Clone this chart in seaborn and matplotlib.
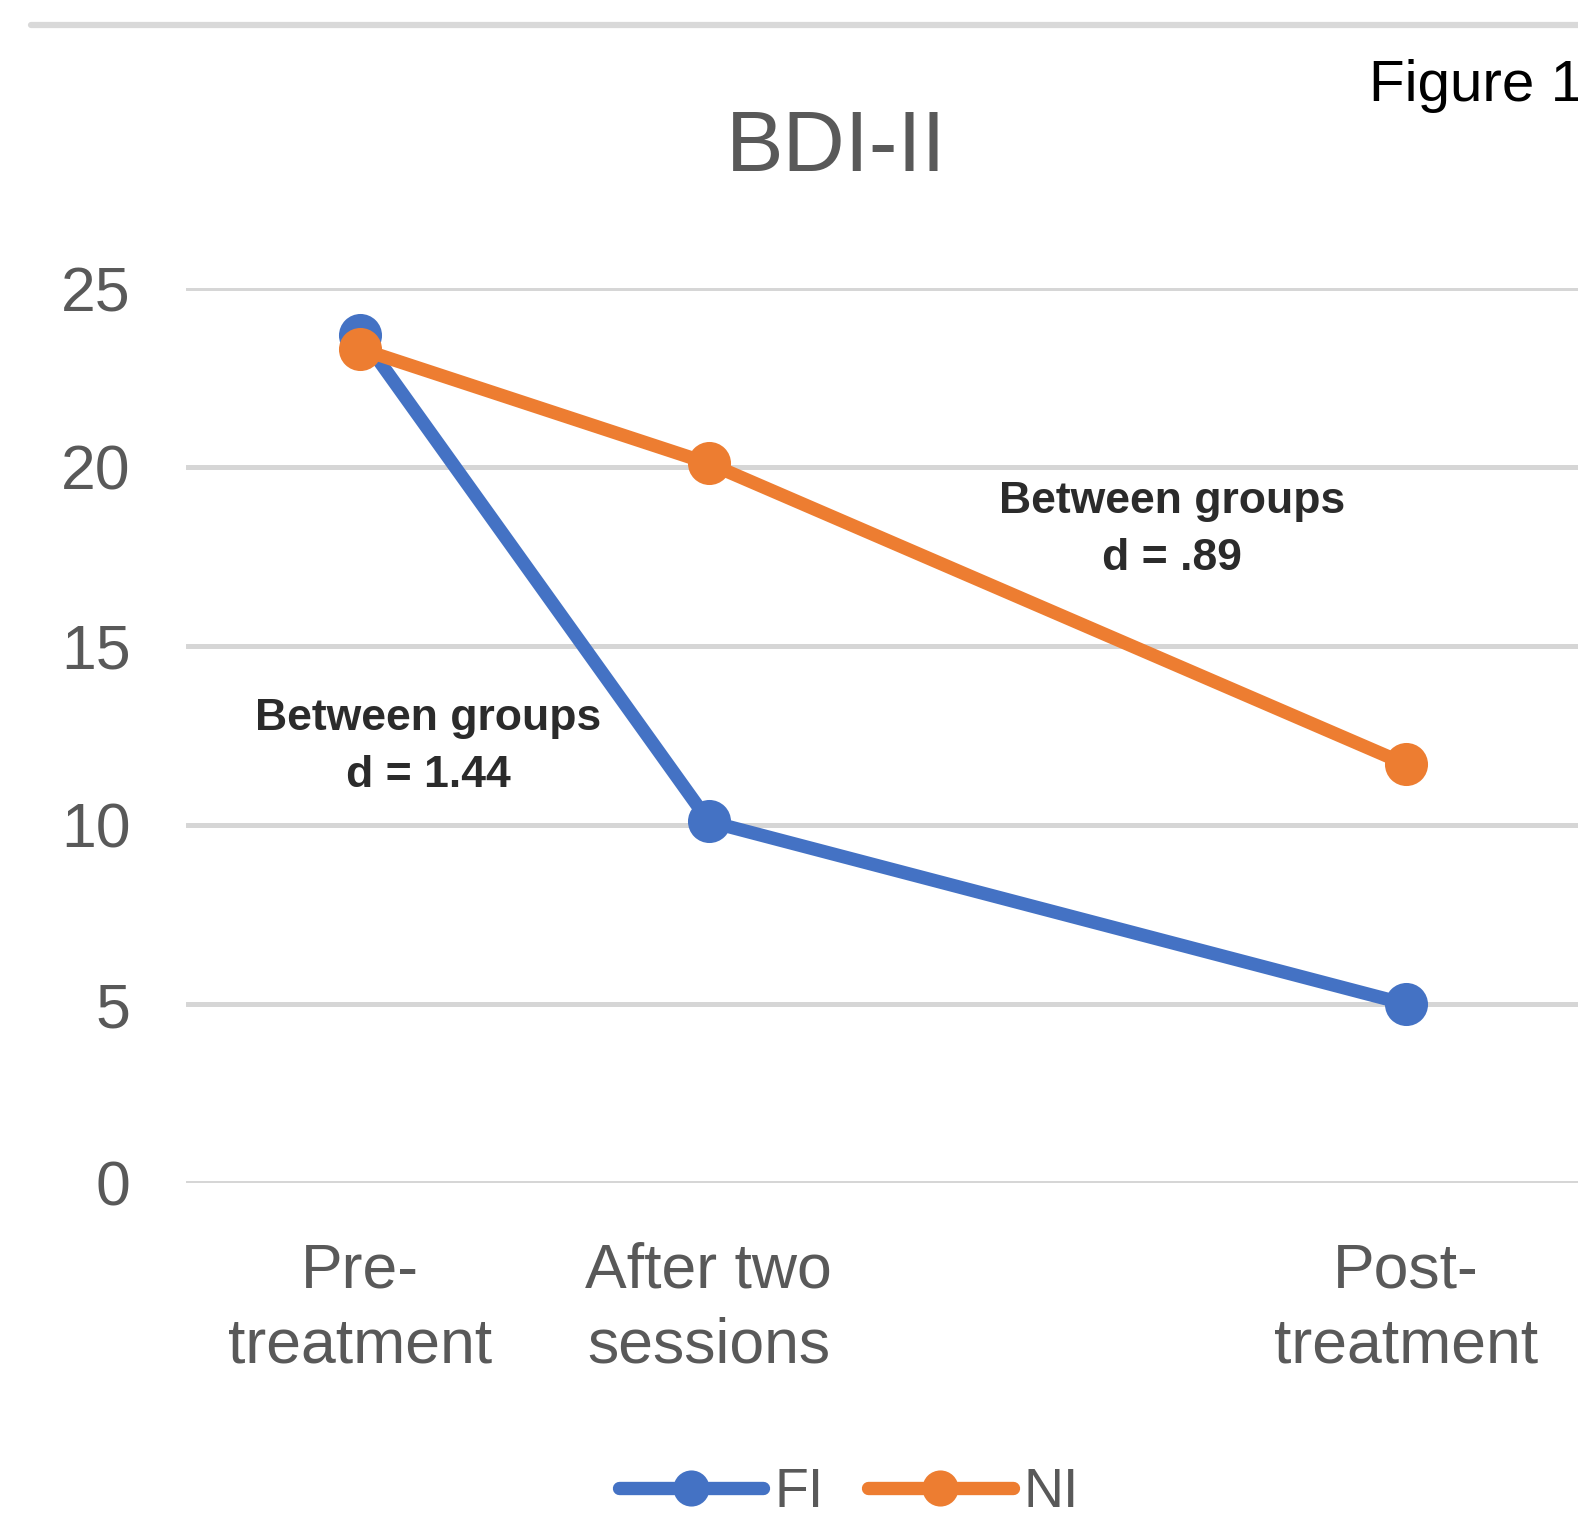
import pandas as pd
import matplotlib
matplotlib.use('Agg')
import matplotlib.pyplot as plt
from matplotlib.lines import Line2D
import seaborn as sns

# 数据
timepoints = ['Pre-\ntreatment', 'After two\nsessions', '', 'Post-\ntreatment']
time_pos = [0, 1, 3]
fi_scores = [23.7, 10.1, 5.0]
ni_scores = [23.3, 20.1, 11.7]
groups = ['FI', 'NI']
colors = ['#4472C4', '#ED7D31']

df = pd.DataFrame({
    'time': time_pos * 2,
    'score': fi_scores + ni_scores,
    'group': ['FI'] * 3 + ['NI'] * 3,
})

sns.set_style('white')
plt.rcParams['font.family'] = ['Liberation Sans', 'DejaVu Sans']

fig = plt.figure(figsize=(15.78, 15.21), dpi=100)
ax = fig.add_axes([186 / 1578, 1 - 1183 / 1521, 1394 / 1578, 895 / 1521])

sns.lineplot(data=df, x='time', y='score', hue='group', hue_order=groups,
             palette=colors, marker='o', markersize=31, markeredgewidth=0,
             linewidth=9.6, ax=ax, legend=False)

ax.set_xlim(-0.5, 3.5)
ax.set_ylim(0, 25)
ax.set_yticks([0, 5, 10, 15, 20, 25])
ax.set_xticks(range(len(timepoints)))
ax.set_xticklabels(timepoints, linespacing=1.35)
ax.set_xlabel('')
ax.set_ylabel('')
ax.yaxis.grid(True, color='#D6D6D6', linewidth=3.6)
ax.set_axisbelow(True)
for s in ax.spines.values():
    s.set_visible(False)
ax.tick_params(axis='y', length=0, pad=40, labelsize=45, labelcolor='#595959')
ax.tick_params(axis='x', length=0, pad=42, labelsize=45, labelcolor='#595959')

# 标题和注释
fig.text(836 / 1578, 1 - 149 / 1521, 'BDI-II', ha='center', va='center',
         fontsize=62, color='#595959')
fig.text(1369 / 1578, 1 - 86 / 1521, 'Figure 1.', ha='left', va='center',
         fontsize=42, color='black')
fig.text(428 / 1578, 1 - 747 / 1521, 'Between groups\nd = 1.44', ha='center',
         va='center', fontsize=32, fontweight='bold', color='#2b2b2b',
         linespacing=1.5)
fig.text(1172 / 1578, 1 - 530 / 1521, 'Between groups\nd = .89', ha='center',
         va='center', fontsize=32, fontweight='bold', color='#2b2b2b',
         linespacing=1.5)

# 顶部灰线
fig.add_artist(Line2D([31 / 1578, 1], [1 - 25 / 1521] * 2, color='#D9D9D9',
                      linewidth=4.5, transform=fig.transFigure))

# 图例
handles = [Line2D([], [], color=c, linewidth=9.6, marker='o', markersize=26,
                  markeredgewidth=0) for c in colors]
fig.legend(handles, groups, loc='center', bbox_to_anchor=(849 / 1578, 1 - 1493 / 1521),
           ncol=2, frameon=False, fontsize=40, labelcolor='#595959',
           handlelength=2.6, handletextpad=0.2, columnspacing=0.8)

fig.savefig('out.png', dpi=100)
